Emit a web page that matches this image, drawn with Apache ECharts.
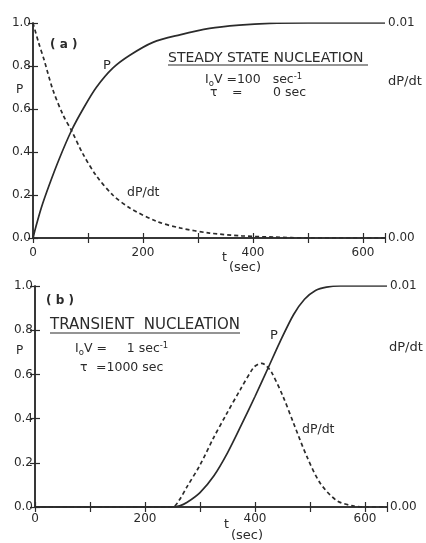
<!DOCTYPE html>
<html>
<head>
<meta charset="utf-8">
<script src="https://cdn.jsdelivr.net/npm/echarts@6/dist/echarts.min.js"></script>
<style>
  html, body { margin: 0; padding: 0; background: #fff; }
  #chart { width: 426px; height: 543px; }
</style>
</head>
<body>
<div id="chart"></div>
<script>
// ---- Data ----
// (a) Steady state nucleation
const tSteadyP   = [0, 5, 15, 30, 48, 70, 91, 115, 145, 176, 218, 267, 321, 375, 430, 500, 640];
const pSteady    = [0, 0.05, 0.14, 0.25, 0.37, 0.50, 0.60, 0.70, 0.79, 0.85, 0.91, 0.945, 0.975, 0.99, 0.998, 1.0, 1.0];
const tSteadyR   = [0, 10, 20, 36, 55, 70, 91, 115, 145, 176, 224, 267, 321, 380, 440, 500, 640];
const rateSteady = [0.0100, 0.0091, 0.0083, 0.0069, 0.0057, 0.0050, 0.0039, 0.0029, 0.0020, 0.0014, 0.00078, 0.00047, 0.00023, 0.00010, 0.00004, 0, 0];
// (b) Transient nucleation
const tTransP    = [0, 250, 263, 276, 300, 325, 350, 375, 400, 424, 445, 470, 490, 510, 530, 555, 640];
const pTrans     = [0, 0, 0.005, 0.02, 0.065, 0.14, 0.245, 0.37, 0.50, 0.63, 0.745, 0.87, 0.94, 0.98, 0.995, 1.0, 1.0];
const tTransR    = [0, 250, 262, 276, 300, 324, 348, 373, 397, 405, 412, 420, 430, 451, 470, 494, 518, 548, 578, 600, 640];
const rateTrans  = [0, 0, 0.0003, 0.0009, 0.0019, 0.0031, 0.0042, 0.0053, 0.0063, 0.00645, 0.0065, 0.0064, 0.0061, 0.0050, 0.0038, 0.0023, 0.0011, 0.0003, 0.00005, 0, 0];
// tick labels
const xTickLabels = [0, 200, 400, 600];
const rightTickLabels = [0, 0.01];

const INK = '#2b2b2b';
const FONT = 'DejaVu Sans';

function zip(a, b) { return a.map((v, i) => [v, b[i]]); }

function xAxisPair(grid) {
  const base = {
    gridIndex: grid, type: 'value', min: 0, max: 640, interval: 100,
    axisLine: { lineStyle: { color: INK, width: 1.5 } },
    axisTick: { inside: true, length: 5, lineStyle: { color: INK, width: 1.2 } },
    splitLine: { show: false }
  };
  return [
    Object.assign({}, base, {
      position: 'bottom',
      axisLabel: {
        margin: grid === 0 ? 9 : 6, color: INK, fontSize: 12, fontFamily: FONT,
        formatter: v => xTickLabels.includes(v) ? String(v) : ''
      }
    }),
    Object.assign({}, base, { position: 'top', axisLabel: { show: false } })
  ];
}

function yAxisPair(grid) {
  const line = { lineStyle: { color: INK, width: 1.5 } };
  const tick = { inside: true, length: 5, lineStyle: { color: INK, width: 1.2 } };
  return [
    {
      gridIndex: grid, type: 'value', position: 'left', min: 0, max: 1, interval: 0.2,
      axisLine: Object.assign({ show: true }, line), axisTick: tick, splitLine: { show: false },
      axisLabel: { margin: 2, color: INK, fontSize: 12, fontFamily: FONT, formatter: v => v.toFixed(1) }
    },
    {
      gridIndex: grid, type: 'value', position: 'right', min: 0, max: 0.01, interval: 0.002,
      axisLine: Object.assign({ show: true }, line), axisTick: tick, splitLine: { show: false },
      axisLabel: {
        margin: 3, color: INK, fontSize: 12, fontFamily: FONT,
        formatter: v => rightTickLabels.some(r => Math.abs(r - v) < 1e-9) ? v.toFixed(2) : ''
      }
    }
  ];
}

function txt(x, y, text, size, extra) {
  return {
    type: 'text', x: x, y: y, silent: true,
    style: Object.assign({
      text: text, fill: INK, fontSize: size || 12, fontFamily: FONT,
      align: 'left', verticalAlign: 'middle'
    }, extra || {})
  };
}
function hline(x1, x2, y) {
  return { type: 'line', silent: true, shape: { x1: x1, y1: y, x2: x2, y2: y }, style: { stroke: INK, lineWidth: 1.2 } };
}
const richSS = {
  m: { fontSize: 12.5, fontFamily: FONT, fill: INK, lineHeight: 16, verticalAlign: 'middle' },
  s: { fontSize: 8.5, fontFamily: FONT, fill: INK, lineHeight: 16, verticalAlign: 'bottom' },
  p: { fontSize: 8.5, fontFamily: FONT, fill: INK, lineHeight: 16, verticalAlign: 'top' }
};

const chart = echarts.init(document.getElementById('chart'), null, { renderer: 'canvas' });
const solid = { color: INK, width: 1.7 };
const dashed = { color: INK, width: 1.7, type: [4, 3] };

chart.setOption({
  animation: false,
  backgroundColor: '#fff',
  grid: [
    { left: 33, top: 23, width: 352, height: 215 },
    { left: 35, top: 286, width: 352, height: 221 }
  ],
  xAxis: xAxisPair(0).concat(xAxisPair(1)),
  yAxis: yAxisPair(0).concat(yAxisPair(1)),
  series: [
    { type: 'line', xAxisIndex: 0, yAxisIndex: 0, data: zip(tSteadyP, pSteady), showSymbol: false, smooth: 0.3, lineStyle: solid },
    { type: 'line', xAxisIndex: 0, yAxisIndex: 1, data: zip(tSteadyR, rateSteady), showSymbol: false, smooth: 0.3, lineStyle: dashed },
    { type: 'line', xAxisIndex: 2, yAxisIndex: 2, data: zip(tTransP, pTrans), showSymbol: false, smooth: 0.3, lineStyle: solid },
    { type: 'line', xAxisIndex: 2, yAxisIndex: 3, data: zip(tTransR, rateTrans), showSymbol: false, smooth: 0.3, lineStyle: dashed }
  ],
  graphic: [
    // panel (a)
    txt(50, 45, '( a )', 12, { fontWeight: 'bold' }),
    txt(103, 66, 'P', 13),
    txt(127, 193, 'dP/dt', 12.5),
    txt(16, 90, 'P', 12),
    txt(388, 82, 'dP/dt', 13),
    txt(168, 58, 'STEADY STATE NUCLEATION', 14),
    hline(168, 368, 65),
    txt(205, 80, '{m|I}{s|o}{m|V =100   sec}{p|-1}', 12.5, { rich: richSS }),
    txt(210, 93, 'τ', 12.5),
    txt(232, 93, '=', 12.5),
    txt(273, 93, '0 sec', 12.5),
    txt(222, 258, 't', 12.5),
    txt(229, 268, '(sec)', 13),
    // panel (b)
    txt(46, 301, '( b )', 12, { fontWeight: 'bold' }),
    txt(270, 336, 'P', 13),
    txt(302, 430, 'dP/dt', 12.5),
    txt(16, 351, 'P', 12),
    txt(389, 348, 'dP/dt', 13),
    txt(50, 325, 'TRANSIENT  NUCLEATION', 15),
    hline(50, 240, 333),
    txt(75, 349, '{m|I}{s|o}{m|V =     1 sec}{p|-1}', 12.5, { rich: richSS }),
    txt(80, 368, 'τ', 12.5),
    txt(96, 368, '=1000 sec', 12.5),
    txt(224, 525, 't', 12.5),
    txt(231, 536, '(sec)', 13)
  ]
});
</script>
</body>
</html>
